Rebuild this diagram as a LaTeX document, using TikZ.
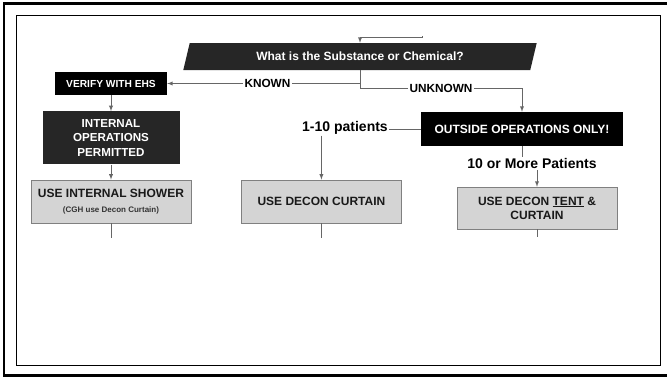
\documentclass[tikz,border=0pt]{standalone}
\usepackage{fontspec}
\setmainfont{Liberation Sans}
\usepackage{tikz}
\usetikzlibrary{positioning,shapes,arrows}

\definecolor{darkfill}{HTML}{262626}
\definecolor{boxgrey}{HTML}{D4D4D4}
\definecolor{linegrey}{HTML}{666666}

\begin{document}
\begin{tikzpicture}[
  x=1pt, y=-1pt,
  node distance=15pt and 50pt,
  darkbox/.style={fill=black,text=white,align=center,inner sep=0pt,
    font=\bfseries\fontsize{12}{14.5}\selectfont},
  greybox/.style={draw=gray,fill=boxgrey,text=black!90,align=center,inner sep=0pt,
    minimum width=160pt,font=\bfseries\fontsize{12}{14}\selectfont},
  lbl/.style={fill=white,inner sep=1.5pt,font=\bfseries\fontsize{11.8}{12}\selectfont},
  bigtext/.style={inner sep=1pt,font=\bfseries\fontsize{14}{14}\selectfont},
  link/.style={draw=linegrey,line width=0.9pt},
  arr/.style={link,-latex},
]
\useasboundingbox (0,0) rectangle (667,378);
\draw[line width=2.6pt] (4,3.5) rectangle (670,375.5);
\draw[line width=0.8pt] (16.5,15) rectangle (660,365);

\node[trapezium,trapezium left angle=66,trapezium right angle=114,
  trapezium stretches=true,minimum width=354pt,minimum height=27pt,
  inner sep=0pt,fill=darkfill,text=white,
  font=\bfseries\fontsize{12}{12}\selectfont] (question) at (360,56.5)
  {What is the Substance or Chemical?};
\node[darkbox,minimum width=112pt,minimum height=23pt,
  font=\bfseries\fontsize{10.2}{12}\selectfont] (verify) at (111,83.5) {VERIFY WITH EHS};
\node[darkbox,fill=darkfill,minimum width=137pt,minimum height=53pt,
  font=\bfseries\fontsize{11.6}{14.5}\selectfont,below=16pt of verify] (internal)
  {INTERNAL\\OPERATIONS\\PERMITTED};
\node[greybox,minimum height=43pt,below=of internal] (shower)
  {USE INTERNAL SHOWER\\[1pt]{\fontsize{8}{8}\selectfont\color{black!80}(CGH use Decon Curtain)}};
\node[greybox,minimum height=43pt,right=of shower] (curtain) {USE DECON CURTAIN};
\node[darkbox,minimum width=202pt,minimum height=34pt] (outside) at (522,129)
  {OUTSIDE OPERATIONS ONLY!};
\node[greybox,minimum height=42pt] (tent) at (537,208)
  {USE DECON \underline{TENT} \&\\CURTAIN};
\node[bigtext] (few) at (345,128) {1-10 patients};
\node[bigtext] (many) at (532,163.5) {10 or More Patients};

\coordinate (feed) at (422,36);
\coordinate (feedturn) at ([yshift=5pt]question.north);
\coordinate (showerend) at ([yshift=-15pt]shower.south);
\coordinate (curtainend) at ([yshift=-15pt]curtain.south);
\coordinate (tentend) at ([yshift=-8pt]tent.south);

\draw[link] (feed) |- (feedturn);
\draw[arr] (feedturn) -- (question.north);
\draw[arr] (question.south) |- node[lbl,pos=0.74] {KNOWN} (verify);
\draw[arr] (question.south) -- ++(0,18) -| node[lbl,pos=0.25] {UNKNOWN} (outside);
\draw[arr] (verify) -- (internal);
\draw[arr] (internal) -- (shower);
\draw[link] (outside.west) -- (outside.west -| few.east);
\draw[arr] (few.south -| curtain.north) -- (curtain.north);
\draw[link] (outside.south) -- (outside.south |- many.north);
\draw[arr] (many.south -| tent.north) -- (tent.north);
\path[link] (shower) edge (showerend)
  (curtain) edge (curtainend)
  (tent) edge (tentend);
\end{tikzpicture}
\end{document}
